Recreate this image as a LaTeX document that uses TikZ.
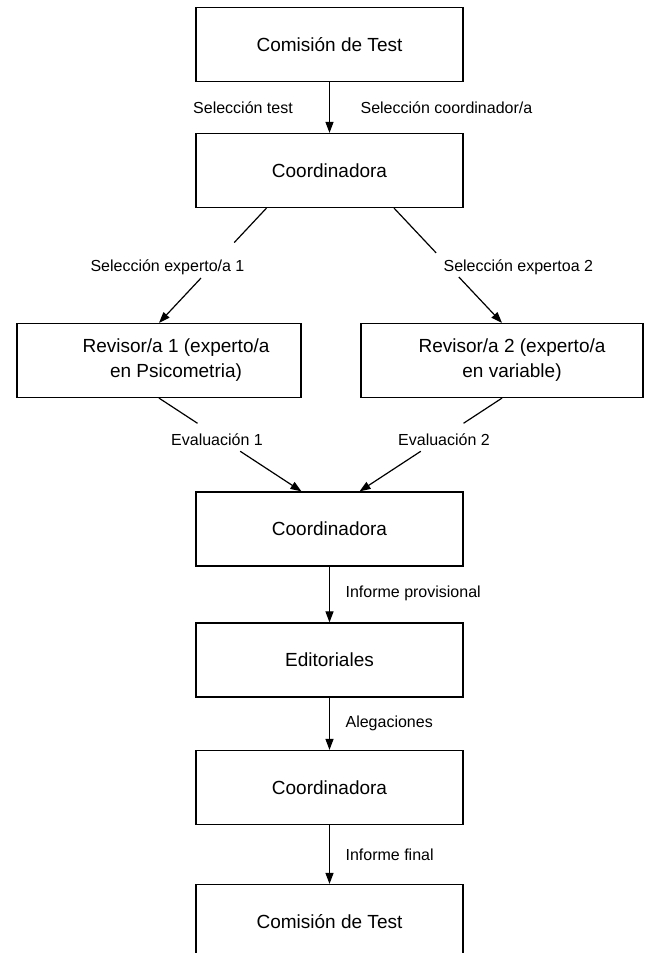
\documentclass[tikz,border=0pt]{standalone}
\usepackage{fontspec}
\setmainfont{Liberation Sans}
\usetikzlibrary{arrows.meta,calc}

\begin{document}
\begin{tikzpicture}[x=1pt,y=1pt,line width=1.2pt,
  box/.style={draw,minimum height=74pt,inner sep=0pt,font=\fontsize{19}{24}\selectfont},
  boxtext/.style={align=center,inner sep=0pt,font=\fontsize{19}{25}\selectfont},
  lbl/.style={inner sep=0pt,font=\fontsize{16}{19}\selectfont},
  >={Triangle[length=11pt,width=8pt]}]
\path[use as bounding box,clip] (0,0) rectangle (649,953);
\node[box,minimum width=267pt] (t1) at (329.5,908.5) {Comisión de Test};
\node[box,minimum width=267pt] (c1) at (329.5,782.5) {Coordinadora};
\node[box,minimum width=284pt] (r1) at (159,592.5) {};
\node[box,minimum width=282pt] (r2) at (502,592.5) {};
\node[boxtext] (r1t) at ([xshift=17pt]r1.center) {Revisor/a 1 (experto/a\\en Psicometria)};
\node[boxtext] (r2t) at ([xshift=10pt]r2.center) {Revisor/a 2 (experto/a\\en variable)};
\node[box,minimum width=267pt] (c2) at (329.5,424) {Coordinadora};
\node[box,minimum width=267pt] (ed) at (329.5,293) {Editoriales};
\node[box,minimum width=267pt] (c3) at (329.5,165.5) {Coordinadora};
\node[box,minimum width=267pt] (t2) at (329.5,31.5) {Comisión de Test};
\node[lbl] (l1) at (243,845) {Selección test};
\node[lbl,anchor=west] (l2) at (360,845) {Selección coordinador/a};
\node[lbl,anchor=east] (l3) at (245,686) {Selección experto/a 1};
\node[lbl,anchor=west] (l4) at (443,686) {Selección expertoa 2};
\node[lbl] (l5) at (217,513) {Evaluación 1};
\node[lbl] (l6) at (444,513) {Evaluación 2};
\node[lbl,anchor=west] (l7) at (345,360) {Informe provisional};
\node[lbl,anchor=west] (l8) at (345,230) {Alegaciones};
\node[lbl,anchor=west] (l9) at (345,98) {Informe final};
\coordinate (a1) at ([xshift=-63pt]c1.south);
\coordinate (a2) at ([xshift=64.5pt]c1.south);
\coordinate (b1) at ([xshift=-28pt]c2.north);
\coordinate (b2) at ([xshift=30pt]c2.north);
\draw[->] (t1) -- (c1);
\draw (a1) -- ($(a1)!0.30!(r1.north)$);
\draw[->] ($(a1)!0.61!(r1.north)$) -- (r1.north);
\draw (a2) -- ($(a2)!0.39!(r2.north)$);
\draw[->] ($(a2)!0.60!(r2.north)$) -- (r2.north);
\draw (r1.south) -- ($(r1.south)!0.27!(b1)$);
\draw[->] ($(r1.south)!0.57!(b1)$) -- (b1);
\draw (r2.south) -- ($(r2.south)!0.27!(b2)$);
\draw[->] ($(r2.south)!0.57!(b2)$) -- (b2);
\draw[->] (c2) -- (ed);
\draw[->] (ed) -- (c3);
\draw[->] (c3) -- (t2);
\end{tikzpicture}
\end{document}
